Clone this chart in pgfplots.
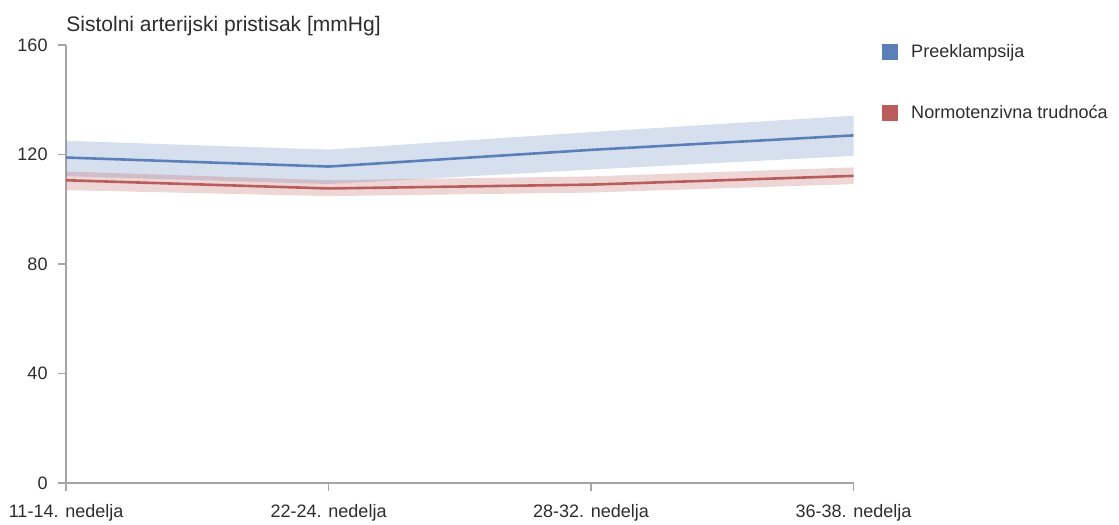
\documentclass[border=0pt]{standalone}
\usepackage{fontspec}
\setmainfont{Liberation Sans}
\usepackage{pgfplots}
\usepackage{pgfplotstable}
\pgfplotsset{compat=1.18}
\usepgfplotslibrary{fillbetween}
\definecolor{cblue}{RGB}{91,127,184}
\definecolor{cred}{RGB}{186,92,92}
\definecolor{axgray}{RGB}{165,165,165}
\definecolor{txt}{RGB}{45,45,45}

\pgfplotstableread{
x  bm     bu     bd     rm     ru     rd
0  118.9  125.0  112.1  110.6  113.8  107.0
1  115.6  121.8  109.2  107.6  110.6  104.8
2  121.7  128.2  114.5  109.0  112.0  106.1
3  127.0  134.2  119.5  112.2  115.3  109.2
}\data

\begin{document}
\begin{tikzpicture}
\begin{axis}[
  scale only axis, width=786pt, height=437pt,
  xmin=0, xmax=3, ymin=0, ymax=160,
  axis x line*=bottom, axis y line*=left,
  axis line style={axgray, line width=1.3pt},
  tick style={axgray, line width=1.3pt},
  tick align=outside, major tick length=8pt,
  xtick={0,1,2,3},
  xticklabels={11-14. nedelja, 22-24. nedelja, 28-32. nedelja, 36-38. nedelja},
  ytick={0,40,80,120,160},
  /pgf/number format/assume math mode=true,
  tick label style={font=\fontsize{18}{20}\selectfont, text=txt},
  xticklabel style={yshift=-10pt},
  yticklabel style={xshift=-7pt},
  clip=false,
  legend style={at={(rel axis cs:1,1)}, anchor=north west, xshift=25pt, yshift=5pt,
    draw=none, fill=none, font=\fontsize{18}{20}\selectfont, text=txt,
    row sep=42pt, /tikz/every even column/.append style={column sep=0pt},
    /tikz/every odd column/.append style={column sep=12pt}},
  legend cell align=left,
]
\addplot[name path=BU, draw=none, forget plot] table[x=x,y=bu]{\data};
\addplot[name path=BD, draw=none, forget plot] table[x=x,y=bd]{\data};
\addplot[fill=cblue, fill opacity=0.25, draw=none, forget plot] fill between[of=BU and BD];
\addplot[name path=RU, draw=none, forget plot] table[x=x,y=ru]{\data};
\addplot[name path=RD, draw=none, forget plot] table[x=x,y=rd]{\data};
\addplot[fill=cred, fill opacity=0.25, draw=none, forget plot] fill between[of=RU and RD];
\addplot[cblue, line width=2.6pt, forget plot] table[x=x,y=bm]{\data};
\addplot[cred, line width=2.6pt, forget plot] table[x=x,y=rm]{\data};
\addlegendimage{legend image code/.code={\fill[cblue] (0pt,-7.5pt) rectangle (15pt,7.5pt);}}
\addlegendentry{Preeklampsija}
\addlegendimage{legend image code/.code={\fill[cred] (0pt,-7.5pt) rectangle (15pt,7.5pt);}}
\addlegendentry{Normotenzivna trudnoća}
\node[anchor=south west, inner sep=0pt, text=txt, font=\fontsize{21}{23}\selectfont]
  at (rel axis cs:0,1) [yshift=9pt] {Sistolni arterijski pristisak [mmHg]};
\path (rel axis cs:0,1) ++(0pt,45pt);
\path (rel axis cs:0,0) ++(-66pt,0pt);
\path (rel axis cs:1,1) ++(265pt,0pt);
\end{axis}
\end{tikzpicture}
\end{document}
